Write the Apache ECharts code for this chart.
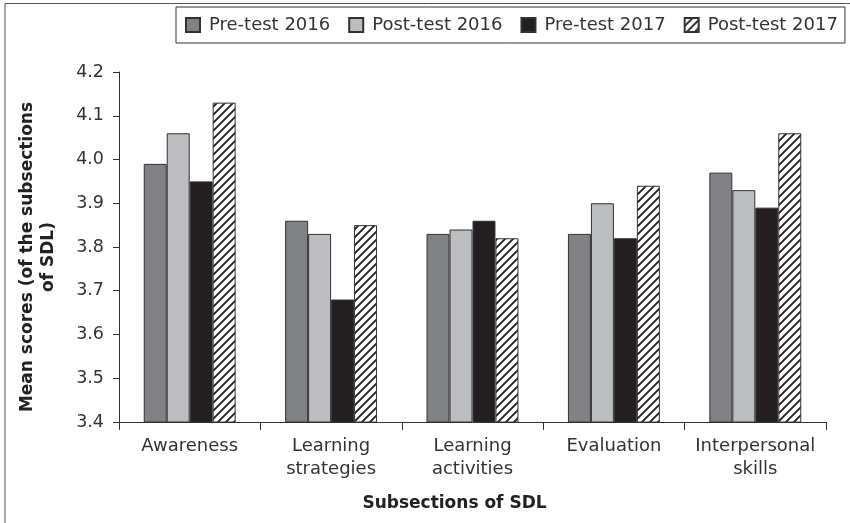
<!DOCTYPE html>
<html>
<head>
<meta charset="utf-8">
<script src="https://cdn.jsdelivr.net/npm/echarts@6/dist/echarts.min.js"></script>
<style>
  html, body { margin: 0; padding: 0; background: #fff; }
  #chart { width: 850px; height: 523px; }
</style>
</head>
<body>
<div id="chart"></div>
<script>
const categories = ['Awareness', 'Learning\nstrategies', 'Learning\nactivities', 'Evaluation', 'Interpersonal\nskills']
const seriesNames = ['Pre-test 2016', 'Post-test 2016', 'Pre-test 2017', 'Post-test 2017']
const pre2016 = [3.99, 3.86, 3.83, 3.83, 3.97]
const post2016 = [4.06, 3.83, 3.84, 3.90, 3.93]
const pre2017 = [3.95, 3.68, 3.86, 3.82, 3.89]
const post2017 = [4.13, 3.85, 3.82, 3.94, 4.06]

const FONT = '"DejaVu Sans", "Noto Sans", sans-serif'

// diagonal hatch for the last series
function hatch() {
  const c = document.createElement('canvas')
  c.width = 8; c.height = 8
  const ctx = c.getContext('2d')
  ctx.fillStyle = '#fff'
  ctx.fillRect(0, 0, 8, 8)
  ctx.strokeStyle = '#1a1a1a'
  ctx.lineWidth = 1.8
  ctx.beginPath()
  ctx.moveTo(0, 8); ctx.lineTo(8, 0)
  ctx.moveTo(-4, 4); ctx.lineTo(4, -4)
  ctx.moveTo(4, 12); ctx.lineTo(12, 4)
  ctx.stroke()
  return c
}

const fills = ['#808185', '#bcbdc0', '#231f20', { image: hatch(), repeat: 'repeat' }]
const values = [pre2016, post2016, pre2017, post2017]

const chart = echarts.init(document.getElementById('chart'))

chart.setOption({
  animation: false,
  textStyle: { fontFamily: FONT },
  graphic: [{
    type: 'polyline',
    silent: true,
    shape: { points: [[5, 523], [5, 3.5], [850, 3.5]] },
    style: { stroke: '#555', lineWidth: 1, fill: null }
  }],
  legend: {
    data: seriesNames,
    icon: 'rect',
    left: 176,
    top: 7,
    padding: [9, 7, 9, 9],
    itemGap: 18,
    itemWidth: 14,
    itemHeight: 14,
    borderColor: '#333',
    borderWidth: 1,
    textStyle: { fontFamily: FONT, fontSize: 18, color: '#333', padding: [0, 0, 0, 4] }
  },
  grid: { left: 119, right: 24, top: 72, bottom: 101, containLabel: false, outerBoundsMode: 'none' },
  xAxis: {
    type: 'category',
    data: categories,
    name: 'Subsections of SDL',
    nameLocation: 'middle',
    nameGap: 73,
    nameTextStyle: { fontFamily: FONT, fontSize: 17, fontWeight: 'bold', color: '#222', padding: [0, 36, 0, 0] },
    axisLine: { lineStyle: { color: '#333', width: 1 } },
    axisTick: { show: true, interval: 0, length: 8, lineStyle: { color: '#333' } },
    axisLabel: { interval: 0, fontFamily: FONT, fontSize: 18, lineHeight: 23, margin: 13, color: '#333' }
  },
  yAxis: {
    type: 'value',
    min: 3.4,
    max: 4.2,
    interval: 0.1,
    name: 'Mean scores (of the subsections\nof SDL)',
    nameLocation: 'middle',
    nameGap: 60,
    nameTextStyle: { fontFamily: FONT, fontSize: 17, fontWeight: 'bold', color: '#222', lineHeight: 21, padding: [0, 20, 0, 0] },
    axisLine: { show: true, lineStyle: { color: '#333', width: 1 } },
    axisTick: { show: true, length: 6, lineStyle: { color: '#333' } },
    splitLine: { show: false },
    axisLabel: {
      fontFamily: FONT, fontSize: 17.5, margin: 15, color: '#333',
      formatter: v => v.toFixed(1)
    }
  },
  series: seriesNames.map((name, i) => ({
    name,
    type: 'bar',
    data: values[i],
    barGap: '0%',
    barCategoryGap: '35%',
    itemStyle: { color: fills[i], borderColor: '#333', borderWidth: 1 }
  }))
})
</script>
</body>
</html>
